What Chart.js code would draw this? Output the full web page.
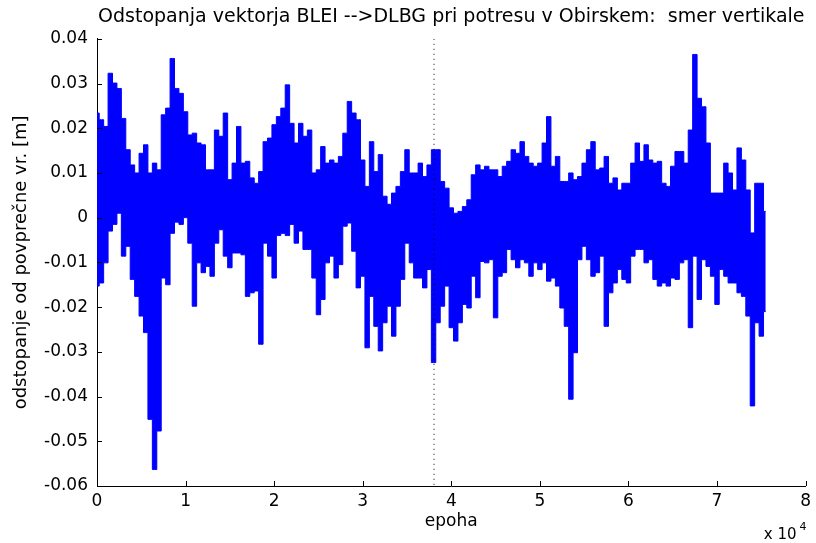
<!DOCTYPE html>
<html>
<head>
<meta charset="utf-8">
<script src="https://cdn.jsdelivr.net/npm/chart.js@4.4.1/dist/chart.umd.min.js"></script>
<style>
  html, body { margin: 0; padding: 0; background: #fff; }
  #wrap { width: 816px; height: 543px; }
</style>
</head>
<body>
<div id="wrap"><canvas id="myChart"></canvas></div>
<script>
// one high and one low reading per 500 epochs
const EPOCH_STEP = 500;

const upper = [
  0.0234, 0.0219, 0.0204, 0.0323, 0.0301, 0.0289, 0.0222, 0.0152, 0.0118, 0.0100,
  0.0144, 0.0163, 0.0100, 0.0122, 0.0107, 0.0230, 0.0245, 0.0356, 0.0289, 0.0278,
  0.0237, 0.0185, 0.0189, 0.0167, 0.0163, 0.0107,
  0.0107, 0.0196, 0.0182, 0.0234, 0.0085, 0.0122, 0.0204, 0.0122, 0.0126, 0.0089,
  0.0077, 0.0103, 0.0170, 0.0178, 0.0208, 0.0226, 0.0245, 0.0297, 0.0211, 0.0167,
  0.0211, 0.0182, 0.0196, 0.0100, 0.0107, 0.0159,
  0.0122, 0.0129, 0.0122, 0.0137, 0.0189, 0.0260, 0.0234, 0.0219, 0.0129, 0.0070,
  0.0170, 0.0103, 0.0141, 0.0048, 0.0030, 0.0055, 0.0070, 0.0103, 0.0152, 0.0100,
  0.0100, 0.0122, 0.0092, 0.0118, 0.0152,
  0.0152, 0.0081, 0.0066, 0.0022, 0.0010, 0.0014, 0.0025, 0.0040, 0.0096, 0.0118,
  0.0107, 0.0115, 0.0107, 0.0107, 0.0092, 0.0115, 0.0126, 0.0152, 0.0144, 0.0170,
  0.0137, 0.0122, 0.0115, 0.0122, 0.0167, 0.0226,
  0.0115, 0.0137, 0.0081, 0.0081, 0.0100, 0.0085, 0.0092, 0.0122, 0.0152, 0.0170,
  0.0107, 0.0111, 0.0137, 0.0077, 0.0089, 0.0062, 0.0077, 0.0077, 0.0122, 0.0167,
  0.0126, 0.0163, 0.0129, 0.0122, 0.0126, 0.0077,
  0.0070, 0.0115, 0.0148, 0.0148, 0.0122, 0.0196, 0.0365, 0.0267, 0.0248, 0.0167,
  0.0055, 0.0055, 0.0055, 0.0122, 0.0100, 0.0062, 0.0156, 0.0129, 0.0062, -0.0034,
  0.0077, 0.0077, 0.0014
];

const lower = [
  -0.0153, -0.0146, -0.0101, -0.0030, -0.0015, 0.0010, -0.0086, -0.0064, -0.0138, -0.0176,
  -0.0220, -0.0257, -0.0451, -0.0563, -0.0477, -0.0135, -0.0150, -0.0035, -0.0010, -0.0015,
  0.0000, -0.0057, -0.0198, -0.0101, -0.0123, -0.0109,
  -0.0131, -0.0057, -0.0027, -0.0086, -0.0112, -0.0079, -0.0079, -0.0083, -0.0176, -0.0168,
  -0.0164, -0.0283, -0.0057, -0.0086, -0.0135, -0.0040, -0.0035, -0.0040, -0.0015, -0.0057,
  -0.0030, -0.0071, -0.0071, -0.0135, -0.0217, -0.0183,
  -0.0101, -0.0086, -0.0135, -0.0105, -0.0019, -0.0012, -0.0075, -0.0157, -0.0131, -0.0291,
  -0.0176, -0.0243, -0.0298, -0.0235, -0.0198, -0.0265, -0.0198, -0.0138, -0.0057, -0.0101,
  -0.0135, -0.0135, -0.0157, -0.0116, -0.0324,
  -0.0235, -0.0198, -0.0153, -0.0246, -0.0276, -0.0235, -0.0194, -0.0202, -0.0131, -0.0179,
  -0.0098, -0.0101, -0.0094, -0.0224, -0.0131, -0.0123, -0.0071, -0.0094, -0.0112, -0.0094,
  -0.0101, -0.0131, -0.0101, -0.0116, -0.0101, -0.0142,
  -0.0135, -0.0153, -0.0202, -0.0243, -0.0406, -0.0302, -0.0094, -0.0064, -0.0094, -0.0131,
  -0.0123, -0.0086, -0.0243, -0.0168, -0.0146, -0.0116, -0.0138, -0.0146, -0.0086, -0.0071,
  -0.0071, -0.0101, -0.0094, -0.0138, -0.0153, -0.0146,
  -0.0153, -0.0135, -0.0138, -0.0101, -0.0094, -0.0246, -0.0086, -0.0183, -0.0094, -0.0109,
  -0.0131, -0.0194, -0.0116, -0.0131, -0.0146, -0.0146, -0.0168, -0.0176, -0.0220, -0.0421,
  -0.0235, -0.0265, -0.0210
];

// epoch of the earthquake (dotted marker)
const eventEpoch = 38050;

const xTickValues = [0, 10000, 20000, 30000, 40000, 50000, 60000, 70000, 80000];
const xTickLabels = ['0', '1', '2', '3', '4', '5', '6', '7', '8'];
const yTickValues = [0.04, 0.03, 0.02, 0.01, 0, -0.01, -0.02, -0.03, -0.04, -0.05, -0.06];
const yTickLabels = ['0.04', '0.03', '0.02', '0.01', '0', '-0.01', '-0.02', '-0.03', '-0.04', '-0.05', '-0.06'];

const FONT = 'DejaVu Sans';
const BLUE = '#0000ff';

const upperPoints = upper.map((v, i) => ({ x: i * EPOCH_STEP, y: v }));
const lowerPoints = lower.map((v, i) => ({ x: i * EPOCH_STEP, y: v }));

const yMax = yTickValues[0];
const yMin = yTickValues[yTickValues.length - 1];

// MATLAB-like inward tick marks and the "x 10^4" multiplier
const matlabAxes = {
  id: 'matlabAxes',
  afterDraw(chart) {
    const { ctx, chartArea, scales } = chart;
    ctx.save();
    ctx.strokeStyle = '#000';
    ctx.lineWidth = 1;
    ctx.beginPath();
    scales.x.ticks.forEach(t => {
      const px = Math.round(scales.x.getPixelForValue(t.value)) + 0.5;
      ctx.moveTo(px, chartArea.bottom);
      ctx.lineTo(px, chartArea.bottom - 5);
    });
    scales.y.ticks.forEach(t => {
      const py = Math.round(scales.y.getPixelForValue(t.value)) + 0.5;
      ctx.moveTo(chartArea.left, py);
      ctx.lineTo(chartArea.left + 5, py);
    });
    ctx.stroke();

    ctx.fillStyle = '#000';
    ctx.textBaseline = 'alphabetic';
    ctx.font = `15px "${FONT}"`;
    ctx.textAlign = 'right';
    ctx.fillText('x 10', chartArea.right - 9, 539);
    ctx.font = `11px "${FONT}"`;
    ctx.textAlign = 'left';
    ctx.fillText('4', chartArea.right - 6, 530);
    ctx.restore();
  }
};

Chart.defaults.color = '#000';
Chart.defaults.font.family = FONT;

const ctx = document.getElementById('myChart').getContext('2d');

const chart = new Chart(ctx, {
  type: 'line',
  data: {
    datasets: [
      {
        label: 'marker',
        data: [{ x: eventEpoch, y: yMax }, { x: eventEpoch, y: yMin }],
        borderColor: '#000',
        borderWidth: 1,
        borderDash: [1, 4],
        pointRadius: 0,
        fill: false,
        order: 0
      },
      {
        label: 'upper',
        data: upperPoints,
        stepped: 'middle',
        borderColor: BLUE,
        backgroundColor: BLUE,
        borderWidth: 1,
        pointRadius: 0,
        fill: '+1',
        order: 1
      },
      {
        label: 'lower',
        data: lowerPoints,
        stepped: 'middle',
        borderColor: BLUE,
        borderWidth: 1,
        pointRadius: 0,
        fill: false,
        order: 2
      }
    ]
  },
  options: {
    responsive: true,
    maintainAspectRatio: false,
    animation: false,
    layout: { padding: { left: 0, right: 6, top: 0, bottom: 0 } },
    plugins: {
      legend: { display: false },
      tooltip: { enabled: false },
      filler: { propagate: false },
      title: {
        display: true,
        fullSize: false,
        text: 'Odstopanja vektorja BLEI -->DLBG pri potresu v Obirskem:  smer vertikale',
        color: '#000',
        font: { size: 19, weight: 'normal' },
        padding: { top: 6, bottom: 10 }
      }
    },
    scales: {
      x: {
        type: 'linear',
        min: 0,
        max: 80000,
        afterFit: scale => { scale.height = 57; },
        afterBuildTicks: scale => {
          scale.ticks = xTickValues.map(v => ({ value: v }));
        },
        ticks: {
          font: { size: 17 },
          padding: 5,
          maxRotation: 0,
          callback: (value, index) => xTickLabels[index]
        },
        grid: { display: true, drawOnChartArea: false, drawTicks: false },
        border: { display: true, color: '#000', width: 1 },
        title: {
          display: true,
          text: 'epoha',
          font: { size: 17 },
          padding: { top: 0, bottom: 11 }
        }
      },
      y: {
        type: 'linear',
        min: yMin,
        max: yMax,
        afterFit: scale => { scale.width = 97; },
        afterBuildTicks: scale => {
          scale.ticks = yTickValues.map(v => ({ value: v }));
        },
        ticks: {
          font: { size: 17 },
          padding: 9,
          callback: (value, index) => yTickLabels[index]
        },
        grid: { display: true, drawOnChartArea: false, drawTicks: false },
        border: { display: true, color: '#000', width: 1 },
        title: {
          display: true,
          text: 'odstopanje od povprečne vr. [m]',
          font: { size: 18 },
          padding: { top: 11, bottom: 0 }
        }
      }
    }
  },
  plugins: [matlabAxes]
});
</script>
</body>
</html>
